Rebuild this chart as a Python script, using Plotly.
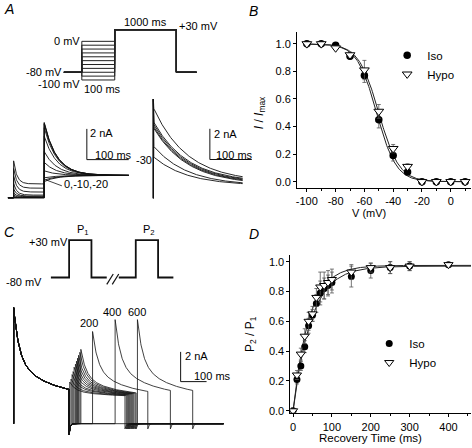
import numpy as np
import plotly.graph_objects as go

W, H = 472, 448
FONT = "Liberation Sans, Arial, sans-serif"
INK = "#111111"

# ---------------- Panel B: steady-state inactivation ----------------
b_v_mV = [-100, -90, -80, -70, -60, -50, -40, -30, -20, -10, 0, 10]
b_iso = [1.0, 1.0, 0.99, 0.91, 0.77, 0.45, 0.19, 0.07, 0.0, 0.0, 0.0, 0.0]
b_iso_err = [0.005, 0.005, 0.01, 0.02, 0.05, 0.06, 0.04, 0.02, 0.005, 0.0, 0.0, 0.0]
b_hypo = [1.0, 1.0, 0.97, 0.92, 0.81, 0.51, 0.24, 0.11, 0.0, 0.0, 0.0, 0.0]
b_hypo_err = [0.005, 0.005, 0.01, 0.02, 0.07, 0.05, 0.03, 0.02, 0.005, 0.0, 0.0, 0.0]
b_iso_fit = {"vhalf": -51.5, "k": 6.8}
b_hypo_fit = {"vhalf": -50.0, "k": 7.0}
b_xtick_vals = [-100, -80, -60, -40, -20, 0]
b_xtick_text = ["-100", "-80", "-60", "-40", "-20", "0"]

# ---------------- Panel D: recovery from inactivation ----------------
d_t_ms = [0, 10, 20, 30, 40, 50, 60, 70, 80, 90, 100, 150, 200, 250, 300, 400]
d_iso = [0.0, 0.21, 0.30, 0.43, 0.57, 0.64, 0.72, 0.79, 0.82, 0.84, 0.86, 0.90, 0.94, 0.96, 0.97, 0.98]
d_iso_err = [0.0, 0.03, 0.03, 0.04, 0.05, 0.04, 0.06, 0.08, 0.07, 0.07, 0.07, 0.07, 0.05, 0.04, 0.03, 0.01]
d_hypo = [0.0, 0.24, 0.38, 0.50, 0.60, 0.65, 0.76, 0.83, 0.84, 0.86, 0.88, 0.93, 0.96, 0.96, 0.97, 0.98]
d_hypo_err = [0.0, 0.03, 0.04, 0.05, 0.06, 0.05, 0.06, 0.10, 0.09, 0.08, 0.07, 0.05, 0.03, 0.04, 0.03, 0.01]
d_iso_fit = {"amp": 0.97, "tau": 47.0}
d_hypo_fit = {"amp": 0.975, "tau": 41.0}

# ---------------- Panel A: protocol (schematic time, mV) ----------------
a_pre_mV = [0, -10, -20, -30, -40, -50, -60, -70, -80, -90, -100]
a_hold_mV = -80
a_test_mV = 30
a_prot_ms = {"hold_pre": 54.5, "cond": 100, "test_drawn": 187, "hold_post": 61.5}

# Panel A left traces (nA), one per prepulse
a_cond_peak_nA = [2.4, 1.9, 1.4, 0.9, 0.55, 0.3, 0.15, 0.05, 0.0, 0.0, 0.0]
a_cond_ss_nA = [0.9, 0.62, 0.37, 0.17, 0.1, 0.06, 0.03, 0.01, 0.0, 0.0, 0.0]
a_test_peak_nA = [1.05, 1.15, 1.3, 1.75, 2.3, 3.0, 4.0, 4.55, 4.8, 4.85, 4.9]
a_test_ss_nA = 1.45
a_left_ms = {"pre": 13.5, "cond": 73, "test": 202, "cond_tau": 8, "test_tau": 30}

# Panel A right traces (nA)
a_right_peak_nA = [5.9, 5.0, 4.85, 4.7, 4.6, 3.4, 2.7]
a_right_end_nA = [1.4, 1.3, 1.25, 1.2, 1.15, 1.0, 0.95]
a_right_cap_nA = 6.45
a_right_ms = {"dur": 213, "tau": 80}

# ---------------- Panel C: protocol and traces ----------------
c_prot_ms = {"hold_pre": 174, "pulse": 213, "gap_a": 146, "brk": 115, "gap_b": 162, "hold_post": 146}
c_hold_mV = -80
c_pulse_mV = 30

c_p1_peak_nA = 7.8
c_p2_onset_ms = [216, 221, 225, 229, 233, 238, 242, 246, 250, 255, 259, 304, 391, 477]
c_p2_peak_nA = [2.8, 3.0, 3.3, 3.5, 3.8, 4.0, 4.2, 4.4, 4.6, 4.8, 5.0, 6.2, 7.0, 7.0]
c_interval_labels = ["200", "400", "600"]
c_kin = {"fast_amp": 3.4, "fast_tau": 20, "slow_amp": 2.6, "slow_tau": 130, "ss": 1.8,
         "pulse": 213, "tail_p1": 0.75, "tail_p2": 0.35, "tail_tau": 4, "end": 809}


def px_x(px):
    return px / W


def px_y(py):
    return 1 - py / H


BLANK = dict(visible=True, showline=False, showticklabels=False, ticks="", showgrid=False,
             zeroline=False, fixedrange=True)


def xspan(p0, p1, origin, ppu):
    return dict(domain=[p0 / W, p1 / W], range=[(p0 - origin) / ppu, (p1 - origin) / ppu], **BLANK)


def yspan(top, bottom, origin, ppu):
    return dict(domain=[1 - bottom / H, 1 - top / H], range=[(origin - bottom) / ppu, (origin - top) / ppu],
                **BLANK)


fig = go.Figure()
line_style = dict(color=INK, width=0.9)

# ---- Panel A protocol
xs, ys = [], []
t1 = a_prot_ms["hold_pre"]
t2 = t1 + a_prot_ms["cond"]
t3 = t2 + a_prot_ms["test_drawn"]
t4 = t3 + a_prot_ms["hold_post"]
for v in a_pre_mV:
    xs += [0, t1, t1, t2, t2, t3, t3, t4, None]
    ys += [a_hold_mV, a_hold_mV, v, v, a_test_mV, a_test_mV, a_hold_mV, a_hold_mV, None]
fig.add_trace(go.Scatter(x=xs, y=ys, mode="lines", line=dict(color="#222", width=1),
                         xaxis="x3", yaxis="y3", showlegend=False, hoverinfo="skip"))

# ---- Panel A left traces
xs, ys = [], []
tc0 = -a_left_ms["cond"]
tp0 = tc0 - a_left_ms["pre"]
for cp, cs, tp in zip(a_cond_peak_nA, a_cond_ss_nA, a_test_peak_nA):
    tc = np.linspace(tc0, 0, 80)
    yc = cs + (cp - cs) * np.exp(-(tc - tc0) / a_left_ms["cond_tau"])
    tt = np.linspace(0, a_left_ms["test"], 220)
    yt = a_test_ss_nA + (tp - a_test_ss_nA) * np.exp(-tt / a_left_ms["test_tau"])
    xs += [tp0, tc0] + list(tc) + list(tt) + [None]
    ys += [0, 0] + list(yc) + list(yt) + [None]
fig.add_trace(go.Scatter(x=xs, y=ys, mode="lines", line=line_style,
                         xaxis="x4", yaxis="y4", showlegend=False, hoverinfo="skip"))

# ---- Panel A right traces
xs, ys = [], []
decay_end = np.exp(-a_right_ms["dur"] / a_right_ms["tau"])
for pk, en in zip(a_right_peak_nA, a_right_end_nA):
    ss = (en - pk * decay_end) / (1 - decay_end)
    tt = np.linspace(0, a_right_ms["dur"], 220)
    yt = ss + (pk - ss) * np.exp(-tt / a_right_ms["tau"])
    xs += [0, 0] + list(tt) + [None]
    ys += [0, a_right_cap_nA] + list(yt) + [None]
fig.add_trace(go.Scatter(x=xs, y=ys, mode="lines", line=line_style,
                         xaxis="x5", yaxis="y5", showlegend=False, hoverinfo="skip"))

# ---- Panel C protocol
p = c_prot_ms
c1 = p["hold_pre"]; c2 = c1 + p["pulse"]; c3 = c2 + p["gap_a"]
c4 = c3 + p["brk"]; c5 = c4 + p["gap_b"]; c6 = c5 + p["pulse"]; c7 = c6 + p["hold_post"]
fig.add_trace(go.Scatter(
    x=[0, c1, c1, c2, c2, c3, None, c4, c5, c5, c6, c6, c7],
    y=[c_hold_mV, c_hold_mV, c_pulse_mV, c_pulse_mV, c_hold_mV, c_hold_mV, None,
       c_hold_mV, c_hold_mV, c_pulse_mV, c_pulse_mV, c_hold_mV, c_hold_mV],
    mode="lines", line=dict(color=INK, width=1.8), xaxis="x6", yaxis="y6",
    showlegend=False, hoverinfo="skip"))


def k_curve(tau_t, peak):
    k = c_kin
    s = (peak - k["ss"]) / (k["fast_amp"] + k["slow_amp"])
    return k["ss"] + s * (k["fast_amp"] * np.exp(-tau_t / k["fast_tau"]) +
                          k["slow_amp"] * np.exp(-tau_t / k["slow_tau"]))


xs, ys = [], []
k = c_kin
for on, pk in zip(c_p2_onset_ms, c_p2_peak_nA):
    tt = np.linspace(0, k["pulse"], 214)
    sx = [0, 0] + list(tt)
    sy = [0, c_p1_peak_nA] + list(k_curve(tt, c_p1_peak_nA))
    tg = np.linspace(k["pulse"], on, max(2, int(on - k["pulse"]) + 1))
    sx += list(tg)
    sy += list(-k["tail_p1"] * np.exp(-(tg - k["pulse"]) / k["tail_tau"]))
    sx += list(on + tt)
    sy += list(k_curve(tt, pk))
    te = np.linspace(on + k["pulse"], k["end"], int(k["end"] - on - k["pulse"]) + 1)
    sx += list(te)
    sy += list(-k["tail_p2"] * np.exp(-(te - on - k["pulse"]) / k["tail_tau"]))
    xs += sx + [None]
    ys += sy + [None]
fig.add_trace(go.Scatter(x=xs, y=ys, mode="lines", line=dict(color=INK, width=0.8),
                         xaxis="x7", yaxis="y7", showlegend=False, hoverinfo="skip"))

# ---- Panel B
vv = np.linspace(-100, 10, 221)
for f in (b_iso_fit, b_hypo_fit):
    fig.add_trace(go.Scatter(x=vv, y=1 / (1 + np.exp((vv - f["vhalf"]) / f["k"])), mode="lines",
                             line=dict(color="#222", width=1), xaxis="x", yaxis="y",
                             showlegend=False, hoverinfo="skip"))
err_style = dict(type="data", color="#555", thickness=0.8, width=2)
fig.add_trace(go.Scatter(x=b_v_mV, y=b_iso, mode="markers", name="Iso",
                         marker=dict(symbol="circle", size=7.5, color="black"),
                         error_y=dict(array=b_iso_err, **err_style), xaxis="x", yaxis="y", legend="legend"))
fig.add_trace(go.Scatter(x=b_v_mV, y=b_hypo, mode="markers", name="Hypo",
                         marker=dict(symbol="triangle-down", size=8.5, color="white",
                                     line=dict(color="black", width=1)),
                         error_y=dict(array=b_hypo_err, **err_style), xaxis="x", yaxis="y", legend="legend"))

# ---- Panel D
tt = np.linspace(0, 458, 459)
for f in (d_iso_fit, d_hypo_fit):
    fig.add_trace(go.Scatter(x=tt, y=f["amp"] * (1 - np.exp(-tt / f["tau"])), mode="lines",
                             line=dict(color="#222", width=1), xaxis="x2", yaxis="y2",
                             showlegend=False, hoverinfo="skip"))
fig.add_trace(go.Scatter(x=d_t_ms, y=d_iso, mode="markers", name="Iso",
                         marker=dict(symbol="circle", size=7, color="black"),
                         error_y=dict(array=d_iso_err, **err_style), xaxis="x2", yaxis="y2", legend="legend2"))
fig.add_trace(go.Scatter(x=d_t_ms, y=d_hypo, mode="markers", name="Hypo",
                         marker=dict(symbol="triangle-down", size=8, color="white",
                                     line=dict(color="black", width=1)),
                         error_y=dict(array=d_hypo_err, **err_style), xaxis="x2", yaxis="y2", legend="legend2"))

# ---- annotations
ann = []


def txt(s, x, y, xa="left", ya="middle", size=11, **kw):
    ann.append(dict(text=s, x=px_x(x), y=px_y(y), xref="paper", yref="paper", xanchor=xa, yanchor=ya,
                    showarrow=False, font=dict(size=size, family=FONT, color="black"), **kw))


# panel letters
txt("<i>A</i>", 1, 9.5, size=14)
txt("<i>B</i>", 247, 11, size=14)
txt("<i>C</i>", 1, 234, size=14)
txt("<i>D</i>", 247, 236.5, size=14)
# A protocol
txt("0 mV", 81, 41, xa="right")
txt("-80 mV", 63, 73, xa="right")
txt("-100 mV", 81, 85, xa="right")
txt("100 ms", 81, 89.5)
txt("1000 ms", 145.3, 22, xa="center")
txt("+30 mV", 176, 26.5)
# A traces
txt("2 nA", 87, 134.5)
txt("100 ms", 92, 156.5)
txt("0,-10,-20", 61, 185.5)
txt("-30", 133, 161)
txt("2 nA", 211, 135)
txt("100 ms", 213, 156)
# C protocol
txt("+30 mV", 69, 244, xa="right")
txt("-80 mV", 3, 285)
txt("P<sub>1</sub>", 74, 232)
txt("P<sub>2</sub>", 140, 232)
# C traces
txt(c_interval_labels[0], 88, 326, xa="center")
txt(c_interval_labels[1], 111.7, 315, xa="center")
txt(c_interval_labels[2], 136.7, 315, xa="center")
txt("2 nA", 182, 359)
txt("100 ms", 191, 379)
# axis titles
txt("<i>I</i> / <i>I</i><sub>max</sub>", 259.5, 113.3, xa="center", textangle=-90, size=12)
txt("V (mV)", 368.5, 214.5, xa="center", size=11, borderpad=0)
txt("P<sub>2</sub> / P<sub>1</sub>", 251, 336.5, xa="center", textangle=-90, size=12)
txt("Recovery Time (ms)", 370, 442, xa="center", size=11.5, borderpad=0)

shapes = []
# scale bars (data units of their trace axes)
sb = dict(type="line", line=dict(color=INK, width=1))
shapes += [dict(xref="x4", yref="y4", x0=101.7, x1=101.7, y0=2.48, y1=4.48, **sb),
           dict(xref="x4", yref="y4", x0=101.7, x1=201.7, y0=2.48, y1=2.48, **sb),
           dict(xref="x5", yref="y5", x0=134.8, x1=134.8, y0=2.52, y1=4.52, **sb),
           dict(xref="x5", yref="y5", x0=134.8, x1=234.8, y0=2.52, y1=2.52, **sb),
           dict(xref="x7", yref="y7", x0=643.5, x1=643.5, y0=2.83, y1=4.83, **sb),
           dict(xref="x7", yref="y7", x0=643.5, x1=743.5, y0=2.83, y1=2.83, **sb)]
# leader line and axis break marks
for (x0, y0, x1, y1, w) in [(45, 181.5, 61, 187.5, 0.8), (106, 287, 112.5, 276.5, 1.2), (111.5, 287, 118, 276.5, 1.2)]:
    shapes.append(dict(type="line", xref="paper", yref="paper", x0=px_x(x0), y0=px_y(y0),
                       x1=px_x(x1), y1=px_y(y1), line=dict(color=INK, width=w)))

axis_common = dict(showline=True, linecolor="black", linewidth=1, ticks="outside", ticklen=3,
                   tickwidth=1, tickcolor="black", showgrid=False, zeroline=False, fixedrange=True,
                   tickfont=dict(size=11, family=FONT, color="black"))

fig.update_layout(
    width=W, height=H, autosize=False, margin=dict(l=0, r=0, t=0, b=0),
    paper_bgcolor="white", plot_bgcolor="rgba(0,0,0,0)",
    font=dict(family=FONT, size=11, color="black"),
    xaxis=dict(domain=[296.7 / W, 471 / W], range=[-106.8, 14.1], anchor="y",
               tickmode="array", tickvals=b_xtick_vals, ticktext=b_xtick_text, ticklabelstandoff=0,
               minor=dict(ticks="outside", ticklen=2, dtick=10, tick0=-100, tickcolor="black"),
               **axis_common),
    yaxis=dict(domain=[1 - 189.3 / H, 1 - 32.3 / H], range=[-0.043, 1.086], anchor="x", tick0=0, dtick=0.2,
               tickformat=".1f", **axis_common),
    xaxis2=dict(domain=[290 / W, 471 / W], range=[-6.9, 458], anchor="y2", tick0=0, dtick=100,
                ticklabelstandoff=1,
                minor=dict(ticks="outside", ticklen=2, dtick=50, tick0=0, tickcolor="black"),
                **axis_common),
    yaxis2=dict(domain=[1 - 416.5 / H, 1 - 257 / H], range=[-0.0133, 1.0465], anchor="x2", tick0=0, dtick=0.2,
                tickformat=".1f", **axis_common),
    xaxis3=dict(anchor="y3", **xspan(55, 220, 63, 0.33)),
    yaxis3=dict(anchor="x3", **yspan(20, 90, 41.7, 0.39)),
    xaxis4=dict(anchor="y4", **xspan(0, 140, 43.3, 0.42)),
    yaxis4=dict(anchor="x4", **yspan(95, 215, 199.5, 15.5)),
    xaxis5=dict(anchor="y5", **xspan(140, 262, 152.7, 0.42)),
    yaxis5=dict(anchor="x5", **yspan(95, 215, 200, 15.5)),
    xaxis6=dict(anchor="y6", **xspan(40, 190, 50, 0.105)),
    yaxis6=dict(anchor="x6", **yspan(235, 295, 252.6, 0.3427)),
    xaxis7=dict(anchor="y7", **xspan(0, 240, 12.7, 0.26)),
    yaxis7=dict(anchor="x7", **yspan(300, 446, 427.5, 15)),
    legend=dict(x=px_x(387), y=px_y(41), xanchor="left", yanchor="top", bgcolor="rgba(0,0,0,0)",
                font=dict(size=11.5, family=FONT, color="black")),
    legend2=dict(x=px_x(369), y=px_y(332), xanchor="left", yanchor="top", bgcolor="rgba(0,0,0,0)",
                 font=dict(size=11.5, family=FONT, color="black")),
    annotations=ann, shapes=shapes,
)

fig.write_html("out.html", config={"displayModeBar": False, "staticPlot": True},
               post_script="document.body.style.margin='0';document.body.style.overflow='hidden';")
